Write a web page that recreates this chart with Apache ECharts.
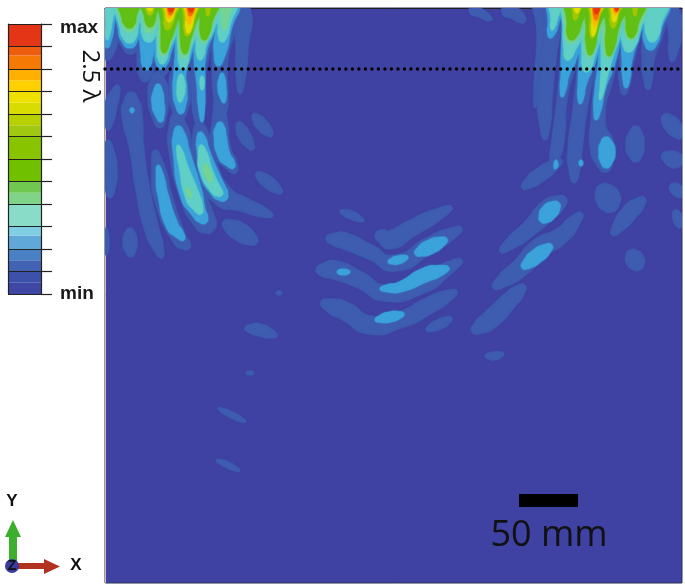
<!DOCTYPE html>
<html><head><meta charset="utf-8">
<style>html,body{margin:0;padding:0;background:#fff}#c{width:685px;height:588px}</style>
<script src="https://cdn.jsdelivr.net/npm/echarts@6/dist/echarts.min.js"></script>
</head><body><div id="c"></div>
<script>
// Contours: every entry is a spine of [x, y, half-width], in field units.
const levelColors = ['#3f42a2','#3e5db0','#3ba3da','#60cfc6','#74d496','#62bf14','#a2c800','#e2dc00','#ffb800','#f47400','#e43a12'];
const level1 = [
 [[108,0,12],[108,35,10],[107,60,1]],
 [[129,0,15],[129,30,12],[131,54,1]],
 [[150,0,14],[150,35,12],[146,62,9],[145,82,1]],
 [[171,0,14],[167,30,12],[163,60,9],[161,76,1]],
 [[191,0,14],[187,30,12],[183,60,10],[180,90,11],[180,120,1]],
 [[209,0,14],[205,30,12],[200,60,8],[198,100,6],[200,132,1]],
 [[227,0,14],[224,30,11],[220,60,8],[221,100,7],[222,118,1]],
 [[243,8,7],[242,50,6],[240,94,1]],
 [[158,72,1],[158,95,10],[160,128,1]],
 [[118,85,1],[111,105,6],[108,130,1]],
 [[131,92,1],[132,115,10],[137,150,7],[143,190,7],[152,230,7],[162,258,1]],
 [[108,140,1],[110,170,7],[110,198,1]],
 [[130,228,1],[130,242,7],[131,257,1]],
 [[106,228,1],[106,243,3],[106,255,1]],
 [[155,150,1],[164,200,9],[180,240,7],[190,248,1]],
 [[176,112,1],[181,150,12],[193,195,13],[205,222,11],[214,230,1]],
 [[199,122,1],[205,165,12],[222,195,11],[245,205,7],[273,216,1]],
 [[218,95,1],[222,150,9],[236,173,1]],
 [[238,122,1],[244,135,6],[253,150,1]],
 [[253,114,1],[262,125,6],[272,136,1]],
 [[256,173,1],[268,182,6],[282,193,1]],
 [[223,222,1],[240,232,9],[257,243,1]],
 [[276,293,1],[279,293,2],[282,293,1]],
 // central group
 [[340,211,1],[351,215,4],[364,221,1]],
 [[376,233,1],[390,240,9],[412,228,8],[452,207,1]],
 [[326,238,1],[345,241,8],[370,252,7],[395,263,8],[430,245,8],[462,228,1]],
 [[316,270,1],[335,270,9],[360,280,8],[385,293,8],[420,285,9],[462,260,1]],
 [[321,302,1],[345,311,9],[370,325,9],[400,320,8],[430,305,8],[457,291,1]],
 [[245,328,1],[260,330,6],[277,336,1]],
 [[426,330,1],[440,324,5],[452,318,1]],
 [[246,373,1],[250,373,2],[254,373,1]],
 [[218,408,1],[232,415,3],[246,422,1]],
 [[216,460,1],[228,465,3],[240,471,1]],
 [[485,356,1],[494,356,4],[504,354,1]],
 // right group
 [[472,8,5],[482,14,4],[492,20,1]],
 [[505,8,6],[516,14,6],[525,22,1]],
 [[538,0,6],[537,16,1]],
 [[544,0,7],[541,40,4],[535,108,1]],
 [[556,0,12],[553,25,9],[549,60,7],[545,100,7],[545,140,1]],
 [[577,0,14],[574,30,12],[568,65,8],[562,100,5],[558,140,6],[552,172,1]],
 [[597,0,14],[592,30,12],[586,70,9],[580,110,7],[575,150,7],[574,183,1]],
 [[616,0,14],[611,30,12],[605,70,10],[598,120,7],[602,145,12],[606,172,1]],
 [[636,0,14],[631,30,11],[626,65,7],[624,95,1]],
 [[655,0,14],[653,30,11],[648,60,6],[648,90,1]],
 [[672,8,6],[675,35,6],[672,62,1]],
 [[636,126,1],[635,145,9],[636,162,1]],
 [[663,115,1],[672,125,8],[682,138,1]],
 [[662,155,1],[675,160,8],[682,164,1]],
 [[670,185,1],[677,190,6],[682,197,1]],
 [[675,210,1],[678,218,5],[680,228,1]],
 [[600,185,1],[608,198,12],[612,212,1]],
 [[612,235,1],[630,212,8],[645,198,1]],
 [[630,250,1],[635,260,9],[640,270,1]],
 [[522,188,1],[540,175,7],[562,160,1]],
 [[500,252,1],[530,228,8],[548,210,10],[566,198,1]],
 [[493,288,1],[520,268,9],[540,248,10],[562,235,8],[582,213,1]],
 [[472,332,1],[490,320,9],[510,300,8],[525,285,1]],
];
const level2 = [
 [[110,0,7],[109,25,5],[107,48,1]],
 [[129,0,14],[129,28,11],[130,48,1]],
 [[150,0,13],[150,30,11],[147,55,6],[146,70,1]],
 [[171,0,13],[167,30,11],[163,52,8],[161,69,1]],
 [[191,0,13],[187,30,11],[183,55,8],[180,72,6],[180,90,7],[181,114,1]],
 [[209,0,13],[205,28,10],[200,55,6],[201,85,4],[202,122,1]],
 [[226,0,12],[223,30,8],[218,66,1]],
 [[158,84,1],[158,103,6],[161,122,1]],
 [[222,73,1],[222,88,4],[224,103,1]],
 [[178,126,1],[181,150,8],[191,193,11],[199,213,7],[206,223,1]],
 [[200,132,1],[203,150,6],[209,173,9],[218,190,8],[226,200,1]],
 [[158,165,1],[163,195,5],[172,225,6],[184,240,1]],
 [[220,122,1],[220,135,6],[224,155,6],[234,168,1]],
 [[131,108,1],[132,110,2],[132,113,1]],
 // central group
 [[415,254,1],[430,247,7],[447,239,1]],
 [[388,262,1],[398,260,4],[408,257,1]],
 [[380,289,1],[400,287,5],[425,275,7],[449,268,1]],
 [[337,272,1],[343,272,3],[350,272,1]],
 [[375,320,1],[390,317,5],[404,314,1]],
 // right group
 [[556,0,7],[553,25,5],[550,38,1]],
 [[577,0,13],[573,32,11],[568,62,7],[565,75,4],[562,97,1]],
 [[597,0,13],[592,32,11],[587,62,8],[582,85,4],[580,104,1]],
 [[616,0,13],[611,32,11],[606,65,8],[600,90,5],[596,120,1]],
 [[636,0,13],[631,30,10],[627,60,5],[626,88,1]],
 [[655,0,13],[652,30,9],[650,50,1]],
 [[606,137,1],[607,152,8],[606,168,1]],
 [[556,160,1],[556,165,2],[555,169,1]],
 [[581,160,1],[581,163,2],[581,166,1]],
 [[541,222,1],[549,212,8],[559,203,1]],
 [[522,268,1],[537,256,7],[552,245,1]],
];
const level3 = [
 [[110,0,6],[109,22,3],[107,40,1]],
 [[129,0,13],[129,28,9],[130,43,1]],
 [[150,0,12],[150,24,9],[148,42,1]],
 [[171,0,12],[167,30,10],[163,50,6],[162,64,1]],
 [[191,0,12],[187,30,10],[184,52,6],[183,70,1]],
 [[209,0,12],[205,28,9],[201,45,5],[200,60,1]],
 [[226,0,10],[224,25,6],[222,42,1]],
 [[181,74,1],[181,88,4],[180,102,1]],
 [[202,76,1],[202,82,2],[202,90,1]],
 [[178,145,1],[183,165,4],[192,195,7],[201,214,1]],
 [[201,145,1],[206,170,6],[216,190,5],[222,195,1]],
 // right group
 [[556,0,6],[554,20,3],[552,30,1]],
 [[577,0,12],[573,32,10],[569,52,5],[567,60,1]],
 [[597,0,12],[592,32,10],[588,58,6],[586,72,1]],
 [[616,0,12],[611,32,10],[607,56,6],[605,70,4],[602,90,2],[600,100,1]],
 [[636,0,12],[631,30,9],[628,52,1]],
 [[655,0,12],[653,25,8],[652,42,1]],
];
const level4 = [
 [[129,0,11],[129,20,8],[130,32,1]],
 [[150,0,11],[150,20,7],[149,33,1]],
 [[171,0,11],[167,30,8],[164,46,5],[163,56,1]],
 [[191,0,11],[187,30,8],[184,48,5],[184,58,1]],
 [[209,0,10],[205,25,7],[203,43,1]],
 [[226,0,6],[225,20,3],[224,30,1]],
 [[187,187,1],[189,193,2],[191,198,1]],
 [[205,164,1],[208,174,3],[211,182,1]],
 [[577,0,11],[573,30,8],[570,43,1]],
 [[597,0,11],[592,30,8],[589,50,4],[589,58,1]],
 [[616,0,11],[611,30,8],[608,50,4],[608,58,1]],
 [[636,0,10],[632,28,7],[630,40,1]],
];
const level5 = [
 [[129,0,10],[129,18,7],[130,28,1]],
 [[150,0,10],[150,15,6],[150,27,1]],
 [[171,0,10],[168,28,7],[165,44,4],[164,53,1]],
 [[191,0,10],[187,28,7],[185,45,4],[185,54,1]],
 [[209,0,9],[206,22,6],[204,40,1]],
 [[577,0,10],[574,25,7],[571,40,1]],
 [[597,0,10],[592,30,6],[590,55,1]],
 [[616,0,10],[612,30,6],[609,56,1]],
 [[636,0,9],[632,24,6],[631,38,1]],
];
const level6 = [
 [[150,0,6],[150,8,4],[150,15,1]],
 [[171,0,8],[169,18,5],[167,30,1]],
 [[191,0,7],[189,20,5],[187,36,1]],
 [[209,0,4],[208,10,2],[208,16,1]],
 [[577,0,7],[576,12,3],[575,20,1]],
 [[597,0,7],[594,20,4],[592,38,1]],
 [[616,0,7],[614,15,4],[613,28,1]],
 [[636,0,4],[635,10,2],[635,16,1]],
];
const level7 = [
 [[150,0,5],[150,6,3],[150,11,1]],
 [[171,0,7],[170,14,4],[169,22,1]],
 [[191,0,7],[190,16,4],[188,33,1]],
 [[577,0,5],[577,7,3],[577,13,1]],
 [[597,0,6],[595,18,3],[593,36,1]],
 [[616,0,6],[615,12,3],[614,22,1]],
];
const level8 = [
 [[171,0,6],[170,12,3],[169,18,1]],
 [[191,0,6],[190,14,3],[189,24,1]],
 [[597,0,5],[596,14,3],[595,26,1]],
 [[616,0,5],[616,8,3],[615,15,1]],
];
const level9 = [
 [[171,0,5],[171,8,3],[170,15,1]],
 [[191,0,5],[191,9,3],[190,16,1]],
 [[597,0,5],[596,11,3],[596,20,1]],
 [[616,0,4],[616,8,2],[616,12,1]],
];
const level10 = [
 [[171,0,4],[171,7,3],[171,12,1]],
 [[191,0,4],[191,7,3],[191,12,1]],
 [[597,0,4],[597,7,3],[596,14,1]],
 [[617,0,3],[617,6,2],[617,11,1]],
];
const contourLevels = [level1,level2,level3,level4,level5,level6,level7,level8,level9,level10];

// Colour scale key: shaded bands seen in each segment, bottom to top.
const keyBandStart = [0,0.5,1,1.5,2,2.6,3,4,4.5,5,6,7,7.5,8,8.5,9,9.5,10,10.6,11];
const keyBandEnd =   [0.5,1,1.5,2,2.6,3,4,4.5,5,6,7,7.5,8,8.5,9,9.5,10,10.6,11,12];
const keyBandColor = ['#3f47a5','#3d50aa','#4262b4','#4a80c4','#60a8d8','#80cee4','#88dcc8','#80d48a','#70c850','#70c000','#88c400','#a0c810','#b8d000','#d8dc00','#f0e000','#ffd000','#ffb000','#f57a05','#ee5c10','#e53517'];
const keyEnds = {12:'max',0:'min'};

// Field overlays
const refLineX = [105,682], refLineY = [69,69];
const scaleBarX = [519,578], scaleBarY = [500.5,500.5];
const fieldX = [105,682], fieldY = [8,583];

const flat = [];
contourLevels.forEach((list,i)=>list.forEach(s=>flat.push({lv:i+1,s})));

// Rounded tips: a spine that ends in a thin tip gets a shoulder so the outline closes as a soft lobe.
function withShoulders(s){
  const out=s.slice();
  const last=out.length-1;
  if(out[last][2]<=1&&last>0){
    const n=out[last-1],t=out[last];
    out.splice(last,0,[n[0]+(t[0]-n[0])*.65,n[1]+(t[1]-n[1])*.65,n[2]*.72]);
  }
  if(out[0][2]<=1&&out.length>1){
    const n=out[1],t=out[0];
    out.splice(1,0,[n[0]+(t[0]-n[0])*.65,n[1]+(t[1]-n[1])*.65,n[2]*.72]);
  }
  return out;
}
function outline(raw){
  const s=withShoulders(raw);
  const head=[],tail=[];
  for(let i=0;i<s.length;i++){
    const a=s[Math.max(0,i-1)],b=s[Math.min(s.length-1,i+1)];
    let tx=b[0]-a[0],ty=b[1]-a[1];const d=Math.hypot(tx,ty)||1;tx/=d;ty/=d;
    const p=s[i],w=p[2];
    if((i===0||i===s.length-1)&&w<=1){head.push([p[0],p[1]]);continue;}
    head.push([p[0]+ty*w,p[1]-tx*w]);tail.unshift([p[0]-ty*w,p[1]+tx*w]);
  }
  return head.concat(tail);
}

const chart = echarts.init(document.getElementById('c'),null,{renderer:'canvas'});
chart.setOption({
  animation:false,
  backgroundColor:'#ffffff',
  grid:[
    {left:105,top:8,width:577,height:575,show:true,backgroundColor:levelColors[0],borderColor:'#30305a',borderWidth:1},
    {left:8,top:24,width:33,height:270}
  ],
  xAxis:[
    {gridIndex:0,type:'value',min:fieldX[0],max:fieldX[1],position:'top',axisLine:{show:true,onZero:false,lineStyle:{color:'#222',width:1}},axisTick:{show:false},axisLabel:{show:false},splitLine:{show:false}},
    {gridIndex:1,type:'value',min:0,max:1,axisLine:{show:false},axisTick:{show:false},axisLabel:{show:false},splitLine:{show:false}}
  ],
  yAxis:[
    {gridIndex:0,type:'value',min:fieldY[0],max:fieldY[1],inverse:true,position:'left',axisLine:{show:true,onZero:false,lineStyle:{color:'#e0b8a8',width:1}},axisTick:{show:false},axisLabel:{show:false},splitLine:{show:false}},
    {gridIndex:1,type:'value',min:0,max:12,interval:1,position:'right',z:5,
     axisLine:{show:true,onZero:false,lineStyle:{color:'#222',width:1.2}},
     axisTick:{show:true,length:11,lineStyle:{color:'#222',width:1.2}},
     splitLine:{show:true,lineStyle:{color:'#222',width:1.2}},
     axisLabel:{show:true,margin:19,hideOverlap:false,formatter:v=>keyEnds[v]?(v===12?'{top|max}':'{low|min}'):'',
       rich:{top:{fontFamily:'Liberation Sans',fontWeight:'bold',fontSize:19,color:'#1a1a1a',padding:[8,0,0,0]},
             low:{fontFamily:'Liberation Sans',fontWeight:'bold',fontSize:19,color:'#1a1a1a'}}}},
    {gridIndex:1,type:'value',min:0,max:12,position:'left',z:5,axisLine:{show:true,onZero:false,lineStyle:{color:'#222',width:1.2}},axisTick:{show:false},axisLabel:{show:false},splitLine:{show:false}}
  ],
  series:[
    {type:'custom',name:'field',xAxisIndex:0,yAxisIndex:0,clip:true,silent:true,
     data:flat.map(c=>[c.s[0][0],c.s[0][1],c.lv]),
     encode:{x:0,y:1},
     renderItem(params,api){
       const c=flat[params.dataIndex];
       const pts=outline(c.s).map(p=>api.coord(p));
       const col=levelColors[c.lv];
       return {type:'polygon',shape:{points:pts,smooth:0.6},style:{fill:col,stroke:col,lineWidth:0.6,shadowBlur:1.5,shadowColor:col}};
     }},
    {type:'line',name:'2.5 wavelengths',xAxisIndex:0,yAxisIndex:0,data:refLineX.map((x,i)=>[x,refLineY[i]]),symbol:'none',z:6,silent:true,
     lineStyle:{color:'#000',width:3.4,cap:'round',type:[0.01,6.5]}},
    {type:'line',name:'scale bar',xAxisIndex:0,yAxisIndex:0,data:scaleBarX.map((x,i)=>[x,scaleBarY[i]]),symbol:'none',z:6,silent:true,
     lineStyle:{color:'#000',width:13,cap:'butt'}},
    {type:'custom',name:'key',xAxisIndex:1,yAxisIndex:1,silent:true,
     data:keyBandStart.map((s,i)=>[s,keyBandEnd[i]]),
     encode:{y:[0,1]},
     renderItem(params,api){
       const a=api.coord([0,api.value(0)]),b=api.coord([1,api.value(1)]);
       return {type:'rect',shape:{x:a[0],y:b[1],width:b[0]-a[0],height:a[1]-b[1]},style:{fill:keyBandColor[params.dataIndex],stroke:null}};
     }}
  ],
  graphic:[
    {type:'text',x:90,y:76,rotation:-Math.PI/2,originX:0,originY:0,style:{text:'2.5 λ',x:0,y:0,align:'center',verticalAlign:'middle',font:'24px "Open Sans"',fill:'#111'}},
    {type:'text',x:549,y:536,style:{text:'50 mm',align:'center',verticalAlign:'middle',font:'36px "Open Sans"',fill:'#111'}},
    {type:'polygon',shape:{points:[[9,566],[17,566],[17,537],[21,537],[13,520],[5,537],[9,537]]},style:{fill:'#3cb02c'}},
    {type:'polygon',shape:{points:[[18,563],[44,563],[44,559],[60,566.5],[44,574],[44,569],[18,569]]},style:{fill:'#b3321f'}},
    {type:'circle',shape:{cx:12,cy:566,r:7},style:{fill:'#3a3aa0'}},
    {type:'text',x:12,y:566,style:{text:'Z',align:'center',verticalAlign:'middle',font:'bold 14px "Liberation Sans"',fill:'#111'}},
    {type:'text',x:12,y:501,style:{text:'Y',align:'center',verticalAlign:'middle',font:'bold 17px "Liberation Sans"',fill:'#111'}},
    {type:'text',x:76,y:565,style:{text:'X',align:'center',verticalAlign:'middle',font:'bold 17px "Liberation Sans"',fill:'#111'}}
  ]
});
</script></body></html>
